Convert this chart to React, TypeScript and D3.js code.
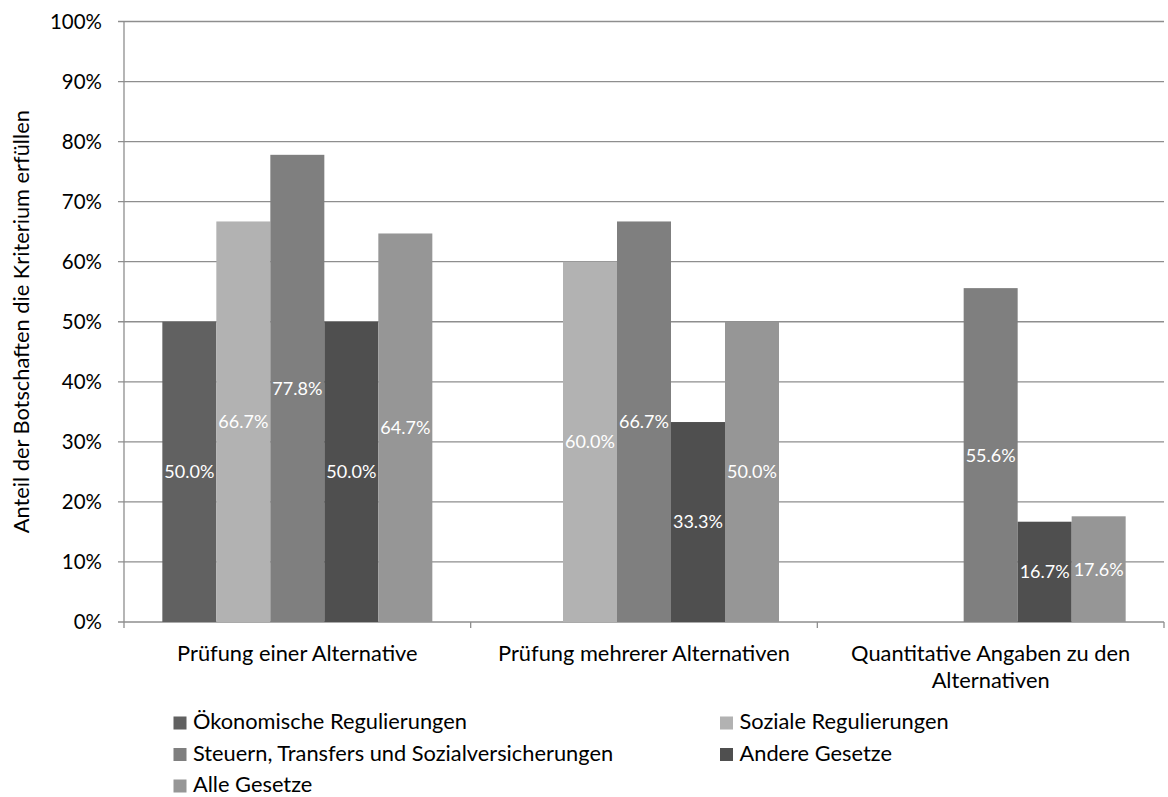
import React from "react";
import * as d3 from "d3";

const categories: string[][] = [
  ["Prüfung einer Alternative"],
  ["Prüfung mehrerer Alternativen"],
  ["Quantitative Angaben zu den", "Alternativen"],
];

const seriesNames = [
  "Ökonomische Regulierungen",
  "Soziale Regulierungen",
  "Steuern, Transfers und Sozialversicherungen",
  "Andere Gesetze",
  "Alle Gesetze",
];

const seriesColors = ["#616161", "#b2b2b2", "#7f7f7f", "#4f4f4f", "#969696"];

// values in percent, one array per series (null = no bar)
const oekonomische = [50.0, null, null];
const soziale = [66.7, 60.0, null];
const steuern = [77.8, 66.7, 55.6];
const andere = [50.0, 33.3, 16.7];
const alle = [64.7, 50.0, 17.6];

const seriesValues: (number | null)[][] = [oekonomische, soziale, steuern, andere, alle];

const yTicks = [0, 10, 20, 30, 40, 50, 60, 70, 80, 90, 100];

const W = 1168;
const H = 797;
const FONT_NAME = "Lato";
const FONT = "Lato, 'Liberation Sans', sans-serif";

// font size at which `sample` spans `width` pixels
function fitSize(sample: string, width: number, fallback: number): number {
  try {
    const ctx = document.createElement("canvas").getContext("2d");
    if (!ctx) return fallback;
    ctx.font = `100px ${FONT_NAME}`;
    const w = ctx.measureText(sample).width;
    return w > 0 ? (width / w) * 100 : fallback;
  } catch {
    return fallback;
  }
}

export default function App() {
  const left = 124;
  const right = 1164;
  const top = 21.5;
  const bottom = 622;

  const textSize = fitSize("Quantitative Angaben zu den", 280, 23);
  const tickSize = fitSize("100%", 52, 20.5);
  const valueSize = fitSize("77.8%", 50, 18);

  const x0 = d3
    .scaleBand<number>()
    .domain(categories.map((_, i) => i))
    .range([left, right])
    .padding(0);
  const x1 = d3
    .scaleBand<number>()
    .domain(seriesNames.map((_, i) => i))
    .range([0, x0.bandwidth()])
    .paddingInner(0)
    .paddingOuter(0.71);
  const y = d3.scaleLinear().domain([0, 100]).range([bottom, top]);

  const gridColor = "#8e8e8e";

  return (
    <svg
      width={W}
      height={H}
      style={{ position: "absolute", left: 0, top: 0, background: "#fff" }}
      fontFamily={FONT}
    >
      {/* horizontal grid + y ticks */}
      {yTicks.map((t) => (
        <g key={t}>
          <line x1={left - 6} x2={right} y1={y(t)} y2={y(t)} stroke={gridColor} strokeWidth={1.3} />
          <text x={102} y={y(t)} dy="0.36em" textAnchor="end" fontSize={tickSize} fill="#000">
            {t}%
          </text>
        </g>
      ))}
      {/* y axis line */}
      <line x1={left} x2={left} y1={top} y2={bottom} stroke={gridColor} strokeWidth={1.3} />
      {/* category ticks */}
      {[...categories.map((_, i) => x0(i)!), right].map((xv, i) => (
        <line key={i} x1={xv} x2={xv} y1={bottom} y2={bottom + 6} stroke={gridColor} strokeWidth={1.3} />
      ))}

      {/* bars */}
      {categories.map((_, ci) => (
        <g key={ci} transform={`translate(${x0(ci)},0)`}>
          {seriesValues.map((vals, si) => {
            const v = vals[ci];
            if (v == null) return null;
            return (
              <rect
                key={si}
                x={x1(si)!}
                y={y(v)}
                width={x1.bandwidth()}
                height={bottom - y(v)}
                fill={seriesColors[si]}
              />
            );
          })}
        </g>
      ))}
      {/* value labels, centred in each bar */}
      {categories.map((_, ci) => (
        <g key={ci} transform={`translate(${x0(ci)},0)`}>
          {seriesValues.map((vals, si) => {
            const v = vals[ci];
            if (v == null) return null;
            return (
              <text
                key={si}
                x={x1(si)! + x1.bandwidth() / 2}
                y={(y(v) + bottom) / 2}
                dy="0.36em"
                textAnchor="middle"
                fontSize={valueSize}
                fill="#fff"
              >
                {v.toFixed(1)}%
              </text>
            );
          })}
        </g>
      ))}

      {/* category labels */}
      {categories.map((lines, ci) => {
        const cx = x0(ci)! + x0.bandwidth() / 2;
        return (
          <text key={ci} textAnchor="middle" fontSize={textSize} fill="#000">
            {lines.map((l, li) => (
              <tspan key={li} x={cx} y={661 + li * 26.5}>
                {l}
              </tspan>
            ))}
          </text>
        );
      })}

      {/* y axis title */}
      <text
        transform={`translate(21,${(top + bottom) / 2}) rotate(-90)`}
        textAnchor="middle"
        dy="0.36em"
        fontSize={textSize}
        fill="#000"
      >
        Anteil der Botschaften die Kriterium erfüllen
      </text>

      {/* legend */}
      {seriesNames.map((name, i) => {
        const col = i % 2;
        const row = Math.floor(i / 2);
        const lx = col === 0 ? 173.5 : 720;
        const base = 729 + row * 31.5;
        return (
          <g key={i}>
            <rect x={lx} y={base - 12.5} width={13} height={13} fill={seriesColors[i]} />
            <text x={lx + 19.5} y={base} fontSize={textSize} fill="#000">
              {name}
            </text>
          </g>
        );
      })}
    </svg>
  );
}
